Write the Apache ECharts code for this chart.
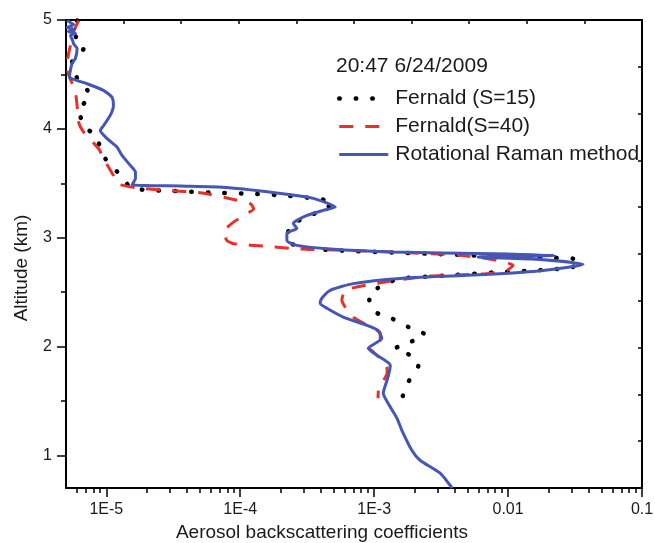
<!DOCTYPE html>
<html><head><meta charset="utf-8">
<script src="https://cdn.jsdelivr.net/npm/echarts@6/dist/echarts.min.js"></script>
<style>html,body{margin:0;padding:0;background:#fff}#c{width:655px;height:543px}</style>
</head><body><div id="c"></div>
<script>
const xMajorTicks = [1e-5, 1e-4, 1e-3, 1e-2, 1e-1];
const xMajorLabels = ['1E-5', '1E-4', '1E-3', '0.01', '0.1'];
const xMinorTicks = [6e-6, 7e-6, 8e-6, 9e-6,
  2e-5, 3e-5, 4e-5, 5e-5, 6e-5, 7e-5, 8e-5, 9e-5,
  2e-4, 3e-4, 4e-4, 5e-4, 6e-4, 7e-4, 8e-4, 9e-4,
  2e-3, 3e-3, 4e-3, 5e-3, 6e-3, 7e-3, 8e-3, 9e-3,
  2e-2, 3e-2, 4e-2, 5e-2, 6e-2, 7e-2, 8e-2, 9e-2];
const yMajorTicks = [1, 2, 3, 4, 5];
const yMinorTicks = [1.5, 2.5, 3.5, 4.5];
const timeLabel = '20:47 6/24/2009';
const seriesNames = ['Fernald (S=15)', 'Fernald(S=40)', 'Rotational Raman method'];

const fernald15 = [
  [6.05e-6, 4.995], [6.2e-6, 4.959], [5.87e-6, 4.812], [6.77e-6, 4.738], [5.55e-6, 4.612],
  [6.05e-6, 4.466], [7.6e-6, 4.307], [6.21e-6, 4.169], [6.97e-6, 4.016], [8.28e-6, 3.939],
  [8.72e-6, 3.878], [9.84e-6, 3.725], [1.24e-5, 3.59], [1.56e-5, 3.455], [3.78e-5, 3.425],
  [6.7e-5, 3.413], [1.19e-4, 3.404], [2.09e-4, 3.388], [3.74e-4, 3.358], [4.95e-4, 3.327],
  [4.16e-4, 3.251], [3.15e-4, 3.196], [2.36e-4, 3.104], [2.23e-4, 2.975], [2.95e-4, 2.908],
  [5.27e-4, 2.883], [2.47e-3, 2.853], [1.23e-2, 2.822], [2.31e-2, 2.813], [3.05e-2, 2.807],
  [3.45e-2, 2.767], [2.9e-2, 2.724], [1.64e-2, 2.70], [8.72e-3, 2.684], [3.69e-3, 2.654],
  [1.56e-3, 2.624], [1.17e-3, 2.568], [9.06e-4, 2.461], [1.02e-3, 2.317], [1.36e-3, 2.256],
  [1.8e-3, 2.179], [2.4e-3, 2.109], [1.86e-3, 2.041], [1.44e-3, 1.981], [1.86e-3, 1.919],
  [2.14e-3, 1.828], [1.8e-3, 1.674], [1.61e-3, 1.522]
];
const fernald40 = [
  [6.21e-6, 4.995], [5.55e-6, 4.858], [5.39e-6, 4.766], [5.09e-6, 4.601], [5.2e-6, 4.509],
  [5.87e-6, 4.337], [6.05e-6, 4.215], [6.21e-6, 4.062], [6.77e-6, 3.97], [8.77e-6, 3.817],
  [9.55e-6, 3.725], [1.13e-5, 3.572], [1.2e-5, 3.496], [1.69e-5, 3.459], [2.84e-5, 3.434],
  [5.03e-5, 3.413], [8.42e-5, 3.358], [1.19e-4, 3.312], [1.26e-4, 3.266], [1.12e-4, 3.22],
  [8.91e-5, 3.143], [7.5e-5, 3.051], [7.95e-5, 2.975], [8.91e-5, 2.945], [1.58e-4, 2.92],
  [2.5e-4, 2.899], [6.62e-4, 2.883], [1.39e-3, 2.868], [4.38e-3, 2.838], [8.24e-3, 2.792],
  [1.09e-2, 2.746], [9.78e-3, 2.70], [6.93e-3, 2.669], [2.47e-3, 2.645], [9.33e-4, 2.571],
  [6.08e-4, 2.516], [5.74e-4, 2.424], [6.97e-4, 2.271], [8.28e-4, 2.216], [1.11e-3, 2.121],
  [1.11e-3, 2.041], [9.3e-4, 1.983], [1.05e-3, 1.919], [1.24e-3, 1.812], [1.25e-3, 1.76],
  [1.08e-3, 1.613], [1.07e-3, 1.524]
];
const raman = [
  [5.09e-6, 4.995], [5.39e-6, 4.977], [5.7e-6, 4.959], [5.1e-6, 4.931], [5.8e-6, 4.913],
  [5.2e-6, 4.894], [5.9e-6, 4.876], [5.4e-6, 4.858], [5.6e-6, 4.812], [5.7e-6, 4.781],
  [6.05e-6, 4.738], [5.87e-6, 4.646], [5.55e-6, 4.601], [5.39e-6, 4.536], [5.3e-6, 4.475],
  [5.7e-6, 4.454], [7.18e-6, 4.414], [9.51e-6, 4.353], [1.10e-5, 4.291], [1.13e-5, 4.215],
  [1.07e-5, 4.123], [9.55e-6, 4.031], [9.02e-6, 3.985], [1.01e-5, 3.912], [1.2e-5, 3.832],
  [1.31e-5, 3.756], [1.51e-5, 3.664], [1.65e-5, 3.602], [1.65e-5, 3.545], [1.56e-5, 3.487],
  [3.57e-5, 3.475], [7.9e-5, 3.462], [2.23e-4, 3.40], [3.51e-4, 3.361], [5.12e-4, 3.281],
  [4.16e-4, 3.251], [3.15e-4, 3.205], [2.65e-4, 3.159], [2.49e-4, 3.131], [2.65e-4, 3.085],
  [2.23e-4, 3.040], [2.23e-4, 2.975], [2.65e-4, 2.929], [4.44e-4, 2.899], [1.39e-3, 2.868],
  [7.73e-3, 2.853], [2.24e-2, 2.838], [5.97e-3, 2.822], [1.73e-2, 2.80], [3.63e-2, 2.755],
  [2.9e-2, 2.73], [1.54e-2, 2.69], [4.94e-3, 2.654], [1.56e-3, 2.626], [6.97e-4, 2.578],
  [4.7e-4, 2.516], [4.07e-4, 2.443], [3.95e-4, 2.397], [4.44e-4, 2.351], [5.87e-4, 2.271],
  [8.83e-4, 2.195], [1.07e-3, 2.149], [1.14e-3, 2.075], [9.02e-4, 1.983], [1.05e-3, 1.919],
  [1.32e-3, 1.828], [1.27e-3, 1.72], [1.17e-3, 1.57], [1.27e-3, 1.478], [1.48e-3, 1.341],
  [1.61e-3, 1.23], [1.91e-3, 1.047], [2.2e-3, 0.955], [3.11e-3, 0.836], [3.69e-3, 0.725],
  [3.82e-3, 0.698]
];

const FONT = 'Liberation Sans, Arial, sans-serif';
const TXT = '#1a1a1a';
const lineAxis = { show: true, lineStyle: { color: '#000', width: 2 } };
const chart = echarts.init(document.getElementById('c'));
chart.setOption({
  backgroundColor: '#fff',
  animation: false,
  textStyle: { fontFamily: FONT },
  grid: { left: 66, right: 13, top: 20, bottom: 55, containLabel: false, outerBoundsMode: 'none' },
  title: {
    text: timeLabel, left: 336, top: 56, padding: 0,
    textStyle: { fontFamily: FONT, fontSize: 21, fontWeight: 'normal', color: TXT }
  },
  legend: {
    orient: 'vertical', left: 337, top: 88, padding: 0,
    itemWidth: 49, itemHeight: 20, itemGap: 7,
    itemStyle: { opacity: 0 },
    lineStyle: { width: 'inherit' },
    textStyle: { fontFamily: FONT, fontSize: 21, color: TXT, padding: [0, 0, 0, 2] },
    data: seriesNames
  },
  xAxis: [
    {
      type: 'log', min: 5e-6, max: 0.1, position: 'bottom',
      axisLine: lineAxis,
      axisTick: { show: true, inside: false, length: 9, lineStyle: { color: '#000', width: 1.5 }, customValues: xMajorTicks },
      axisLabel: {
        show: true, margin: 14, fontSize: 16, color: TXT, fontFamily: FONT, customValues: xMajorTicks,
        formatter: function (v) { const i = xMajorTicks.findIndex(t => Math.abs(Math.log10(t) - Math.log10(v)) < 1e-6); return i >= 0 ? xMajorLabels[i] : ''; }
      },
      splitLine: { show: false }, minorTick: { show: false },
      name: 'Aerosol backscattering coefficients', nameLocation: 'middle', nameGap: 31,
      nameTextStyle: { fontFamily: FONT, fontSize: 19, color: TXT, padding: [0, 64, 0, 0] }
    },
    {
      type: 'log', min: 5e-6, max: 0.1, position: 'bottom', offset: 0,
      axisLine: { show: false },
      axisTick: { show: true, inside: false, length: 5, lineStyle: { color: '#000', width: 1.5 }, customValues: xMinorTicks },
      axisLabel: { show: false }, splitLine: { show: false }
    },
    {
      type: 'value', min: 0, max: 10, interval: 1, position: 'top',
      axisLine: lineAxis,
      axisTick: { show: true, inside: true, length: 4, lineStyle: { color: '#000', width: 1.5 } },
      axisLabel: { show: false }, splitLine: { show: false }
    }
  ],
  yAxis: [
    {
      type: 'value', min: 0.7, max: 5, position: 'left',
      axisLine: lineAxis,
      axisTick: { show: true, inside: false, length: 9, lineStyle: { color: '#000', width: 1.5 }, customValues: yMajorTicks },
      axisLabel: { show: true, margin: 14, fontSize: 16, color: TXT, fontFamily: FONT, customValues: yMajorTicks },
      splitLine: { show: false },
      name: 'Altitude (km)', nameLocation: 'middle', nameGap: 35,
      nameTextStyle: { fontFamily: FONT, fontSize: 19, color: TXT, padding: [0, 28, 0, 0] }
    },
    {
      type: 'value', min: 0.7, max: 5, position: 'left', offset: 0,
      axisLine: { show: false },
      axisTick: { show: true, inside: false, length: 5, lineStyle: { color: '#000', width: 1.5 }, customValues: yMinorTicks },
      axisLabel: { show: false }, splitLine: { show: false }
    },
    {
      type: 'value', min: 0, max: 10, interval: 1, position: 'right',
      axisLine: lineAxis,
      axisTick: { show: true, inside: true, length: 4, lineStyle: { color: '#000', width: 1.5 } },
      axisLabel: { show: false }, splitLine: { show: false }
    }
  ],
  series: [
    {
      name: seriesNames[0], type: 'line', xAxisIndex: 0, yAxisIndex: 0, data: fernald15,
      showSymbol: false, symbol: 'none', smooth: 0.2,
      lineStyle: { color: '#000', width: 4.5, type: [0.5, 16], cap: 'round' },
      itemStyle: { color: '#000' }
    },
    {
      name: seriesNames[1], type: 'line', xAxisIndex: 0, yAxisIndex: 0, data: fernald40,
      showSymbol: false, symbol: 'none', smooth: 0.2,
      lineStyle: { color: '#e5332a', width: 3, type: [14, 12] },
      itemStyle: { color: '#e5332a' }
    },
    {
      name: seriesNames[2], type: 'line', xAxisIndex: 0, yAxisIndex: 0, data: raman,
      showSymbol: false, symbol: 'none', smooth: 0.2,
      lineStyle: { color: '#4656b4', width: 3 },
      itemStyle: { color: '#4656b4' }
    }
  ]
});
</script></body></html>
